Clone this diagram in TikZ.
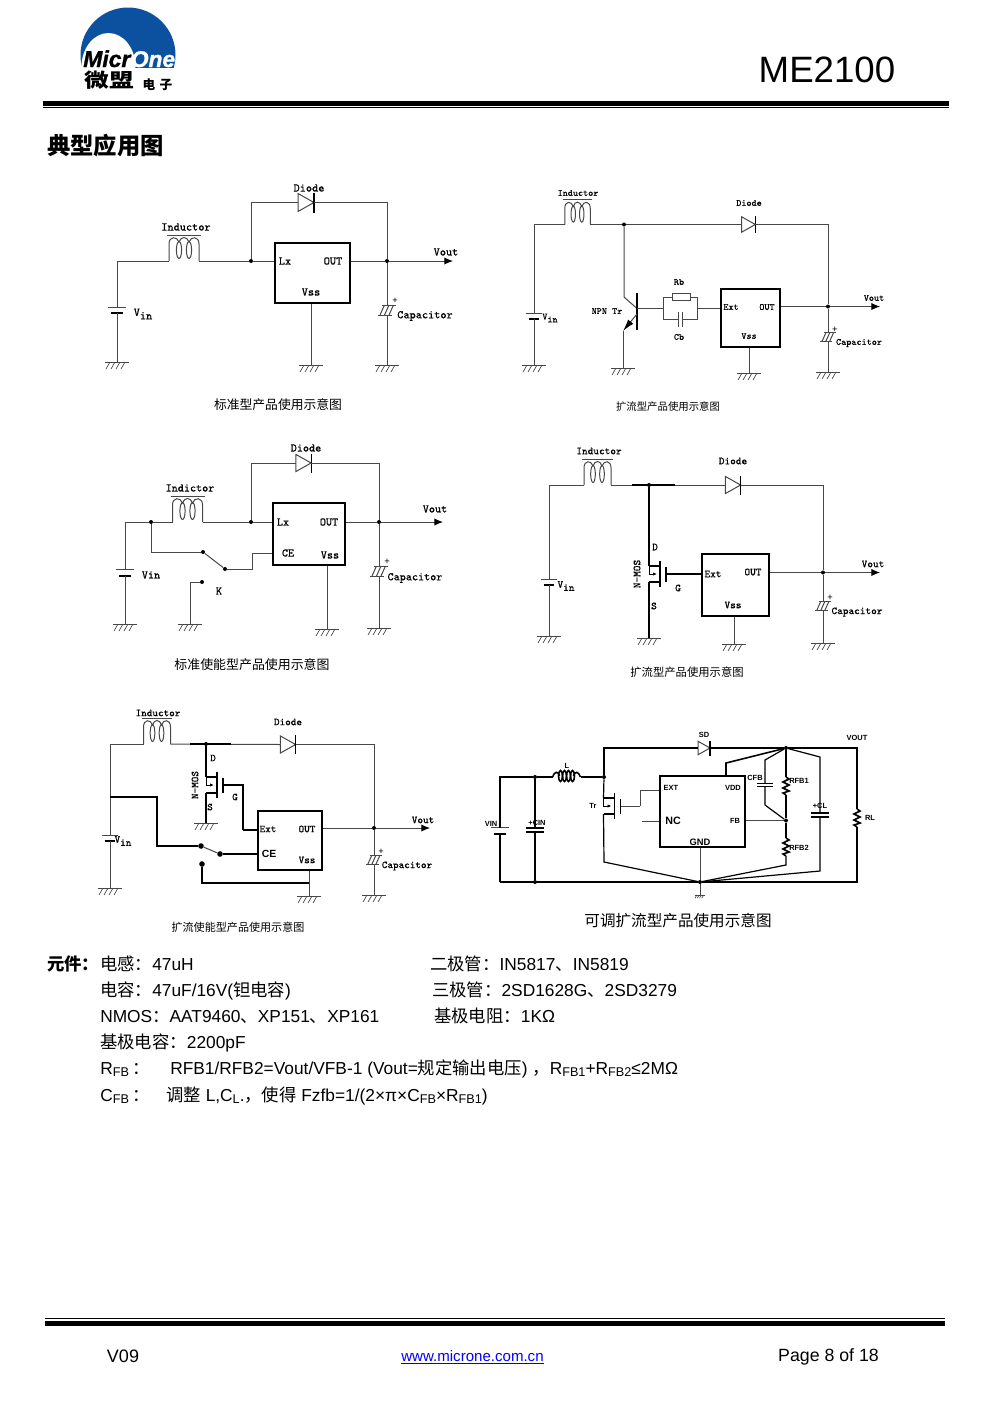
\documentclass[tikz,border=0pt]{standalone}
\usepackage{fontspec}
\setmainfont{Liberation Sans}
\setmonofont[FakeBold=0.35]{Latin Modern Mono}
\newfontfamily\cjk{Noto Sans CJK SC}
\newfontfamily\logofont[UprightFont=* Bold Italic,FakeBold=1.2]{Liberation Sans}
\usetikzlibrary{arrows.meta,positioning}
\definecolor{logoblue}{RGB}{12,80,160}
\definecolor{wiregray}{gray}{0.28}
\newcommand{\zh}[1]{{\cjk #1}}
\newcommand{\sbs}[1]{\raisebox{-1.5pt}{\fontsize{9.5}{9.5}\selectfont #1}}
\newcommand{\fsz}[1]{\fontsize{#1}{#1}\selectfont}
\newcommand{\vin}{V\raisebox{-.3em}{in}}
\tikzset{
  wire/.style={draw=wiregray, line width=0.75pt},
  medium/.style={draw=black, line width=0.9pt},
  heavy/.style={draw=black, line width=1.2pt},
  tip/.style={-{Latex[length=6.5pt,width=5.5pt,color=black]}},
  wedge/.style={-{Latex[length=9pt,width=5pt,color=black]}},
  dot/.style={circle, fill=black, inner sep=0pt, minimum size=3pt},
  bigdot/.style={circle, fill=black, inner sep=0pt, minimum size=4.2pt},
  chip/.style 2 args={draw=black, line width=1.3pt, inner sep=0pt, minimum width=#1*0.75pt, minimum height=#2*0.75pt},
  lbl/.style={inner sep=0pt},
  schem/.style={font=\ttfamily\fsz{#1}},
  capt/.style={inner sep=0pt, font=\cjk\fsz{#1}},
  row/.style={anchor=base west, inner sep=0pt, font=\fsz{13}},
  ground/.pic={
    \coordinate (-c) at (0,0);
    \draw[wire] (-12,0) -- (12,0);
    \foreach \gx in {-7,-2,3,8} \draw[wire,line width=0.5pt] (\gx,0) -- (\gx-4,7);
  },
  inductor/.pic={
    \coordinate (-in) at (-15,0);
    \coordinate (-out) at (15,0);
    \draw[wire] (-17,-26) -- (17,-26);
    \draw[wire] (-15,0) -- (-15,-17) .. controls (-15,-25) and (-7,-25) .. (-5,-19)
      .. controls (-3,-25) and (3,-25) .. (5,-19) .. controls (7,-25) and (15,-25) .. (15,-17) -- (15,0);
    \draw[wire] (-5,-11) ellipse (2.6 and 8.5);
    \draw[wire] (5,-11) ellipse (2.6 and 8.5);
  },
  diode/.pic={
    \coordinate (-in) at (-8,0);
    \coordinate (-out) at (8,0);
    \draw[wire,fill=white] (-8,-9) -- (8,0) -- (-8,9) -- cycle;
    \draw[draw=black,line width=0.8pt] (8,-10) -- (8,10);
  },
  battery/.pic={
    \coordinate (-t) at (0,-3);
    \coordinate (-b) at (0,3);
    \draw[wire] (-9,-3) -- (9,-3);
    \draw[heavy,line width=1.5pt] (-6,3) -- (6,3);
  },
  polcap/.pic={
    \coordinate (-t) at (0,-5);
    \coordinate (-b) at (0,5);
    \draw[wire] (-5,-5) -- (9,-5);
    \draw[wire] (-9,5) -- (5,5);
    \foreach \cx in {-7,-2.5,2} \draw[wire] (\cx,5) -- (\cx+4.5,-5);
    \node[lbl,font=\fsz{7}] (-plus) at (8,-9) {+};
  },
  nmos/.pic={
    \coordinate (-d) at (-11,-8);
    \coordinate (-s) at (-11,8);
    \coordinate (-g) at (6,0);
    \draw[heavy,line width=1pt] (-11,-8) -- (0,-8);
    \draw[heavy,line width=1pt] (-11,8) -- (0,8);
    \draw[heavy,line width=1pt] (0,-13) -- (0,13);
    \draw[heavy,line width=0.8pt] (6,-7) -- (6,8);
    \draw[heavy,line width=0.6pt,-{Latex[length=3pt,width=2.5pt]}] (-11,-8) -- (-11,0) -- (-3,0);
  },
  rzig/.pic={
    \coordinate (-t) at (0,-9);
    \coordinate (-b) at (0,9);
    \draw[heavy] (0,-9) -- (3,-7) -- (-3,-4) -- (3,-1) -- (-3,2) -- (3,5) -- (-3,7) -- (0,9);
  },
  plates/.pic={
    \coordinate (-t) at (0,-2);
    \coordinate (-b) at (0,2);
    \draw[heavy,line width=0.8pt] (-9,-2) -- (9,-2);
    \draw[heavy,line width=0.8pt] (-9,2) -- (9,2);
  },
  coil/.pic={
    \coordinate (-in) at (-14,0);
    \coordinate (-out) at (14,0);
    \draw[heavy] (-14,0) .. controls (-12,-6) and (-8,-6) .. (-7,-1);
    \draw[heavy] (14,0) .. controls (12,-6) and (8,-6) .. (7,-1);
    \foreach \lx in {-6,-2,2,6} \draw[heavy] (\lx,-1) ellipse (2 and 5.5);
  },
}
\begin{document}
\begin{tikzpicture}[x=0.75pt, y=-0.75pt]
%	\draw[help lines, step=100] (0,0) grid (991,1403);
	\useasboundingbox (0,0) rectangle (991,1403);
	% header
	\begin{scope}
		\clip (70,0) rectangle (185,67);
		\fill[logoblue] (128,55) circle (47.5);
		\fill[white] (108.5,67) ellipse (27 and 34);
	\end{scope}
	\node[lbl,anchor=base west,font=\logofont\fsz{17.2}] (micr) at (83,67) {Micr};
	\node[lbl,text=white,font=\logofont\fsz{17},right=0pt of micr.base east,anchor=base west] (one) {One};
	\node[lbl,font=\cjk\bfseries\fsz{14.5}] (logocn) at (109.5,80.5) {\scalebox{1.28}[1]{微盟}};
	\node[lbl,font=\cjk\bfseries\fsz{9.5}] (logosub) at (157.5,85) {电\,\,子};
	\node[lbl,font=\fsz{27.5}] (partno) at (827,70) {ME2100};
	\node[minimum width=906*0.75pt,minimum height=4.5*0.75pt,inner sep=0pt,fill=black] (topbar) at (496,103.5) {};
	\node[minimum width=906*0.75pt,minimum height=1*0.75pt,inner sep=0pt,fill=black,below=0.9pt of topbar] (topline) {};
	\node[lbl,font=\cjk\bfseries\fsz{17.5}] (title) at (105.5,146) {典型应用图};

	% standard
	\begin{scope}[schem=8.8]
		\node[chip={75}{60}] (u1) at (312.5,273) {};
		\node[dot] (j1a) at (251,261) {};
		\node[dot] (j1b) at (387,261) {};
		\coordinate (t1) at (453,261);
		\pic (i1) at (184,261) {inductor};
		\pic (d1) at (306,202.5) {diode};
		\pic (b1) at (117,310) {battery};
		\pic (c1) at (387,310) {polcap};
		\pic (g1a) at (117,362) {ground};
		\pic (g1b) at (311,365) {ground};
		\pic (g1c) at (387,365) {ground};
		\draw[wire] (b1-t) |- (i1-in);
		\draw[wire] (b1-b) -- (g1a-c);
		\draw[wire] (i1-out) -- (j1a);
		\draw[wire] (j1a) -- (j1a -| u1.west);
		\draw[wire] (j1a) |- (d1-in);
		\draw[wire] (d1-out) -| (j1b);
		\draw[wire] (j1b) -- (c1-t);
		\draw[wire] (c1-b) -- (g1c-c);
		\draw[wire] (u1.east |- j1b) -- (j1b);
		\draw[wire,tip] (j1b) -- (t1);
		\draw[wire] (u1.south -| g1b-c) -- (g1b-c);
		\node[lbl] (l1a) at (309,188) {Diode};
		\node[lbl] (l1b) at (186,227) {Inductor};
		\node[lbl] (l1c) at (143,314) {\vin};
		\node[lbl] (l1d) at (285,261) {Lx};
		\node[lbl] (l1e) at (333,261) {OUT};
		\node[lbl] (l1f) at (311,292) {Vss};
		\node[lbl] (l1g) at (446,252) {Vout};
		\node[lbl] (l1h) at (425,316) {Capacitor};
		\node[capt=9.6] (cap1) at (278,405) {标准型产品使用示意图};
	\end{scope}

	% npn
	\begin{scope}[schem=7.2]
		\node[chip={59}{58}] (u2) at (750.5,318) {};
		\node[dot] (j2a) at (624,224.5) {};
		\node[dot] (j2b) at (828,306.5) {};
		\node[draw=wiregray,line width=0.65pt,fill=white,inner sep=0pt,minimum width=13.5pt,minimum height=5pt] (rb) at (681,297) {};
		\coordinate (t2) at (880,306.5);
		\coordinate (q2c) at (624,297);
		\coordinate (q2b) at (637,308.5);
		\coordinate (q2e) at (623,331);
		\coordinate (r2w) at (663,308.5);
		\coordinate (r2e) at (697,308.5);
		\coordinate (c2w) at (678,319);
		\coordinate (c2e) at (682,319);
		\pic[xscale=0.85,yscale=0.95] (i2) at (577.5,224.5) {inductor};
		\pic[scale=0.85] (d2) at (748.5,224.5) {diode};
		\pic[scale=0.9] (b2) at (534,316) {battery};
		\pic[scale=0.85] (c2) at (828,337) {polcap};
		\pic (g2a) at (534,365) {ground};
		\pic (g2b) at (623,368) {ground};
		\pic (g2c) at (749,373) {ground};
		\pic (g2d) at (828,372) {ground};
		\draw[wire] (b2-t) |- (i2-in);
		\draw[wire] (b2-b) -- (g2a-c);
		\draw[wire] (i2-out) -- (j2a);
		\draw[wire] (j2a) -- (d2-in);
		\draw[wire] (d2-out) -| (j2b);
		\draw[wire] (j2b) -- (c2-t);
		\draw[wire] (c2-b) -- (g2d-c);
		\draw[wire] (j2a) -- (q2c) -- (q2b);
		\draw[heavy,line width=0.9pt] (637,293) -- (637,330);
		\draw[wire,wedge] (637,314) -- (q2e);
		\draw[wire] (q2e) -- (g2b-c);
		\draw[wire] (q2b) -- (r2w);
		\draw[wire] (r2w) |- (rb.west);
		\draw[wire] (rb.east) -| (r2e);
		\draw[wire] (r2w) |- (c2w);
		\draw[wire] (r2e) |- (c2e);
		\draw[wire] (678,312) -- (678,327);
		\draw[wire] (682,312) -- (682,327);
		\draw[wire] (r2e) -- (r2e -| u2.west);
		\draw[wire] (u2.east |- j2b) -- (j2b);
		\draw[wire,tip] (j2b) -- (t2);
		\draw[wire] (u2.south -| g2c-c) -- (g2c-c);
		\node[lbl] (l2a) at (578,193) {Inductor};
		\node[lbl] (l2b) at (749,203) {Diode};
		\node[lbl] (l2c) at (679,282) {Rb};
		\node[lbl] (l2d) at (607,311) {NPN Tr};
		\node[lbl] (l2e) at (679,337) {Cb};
		\node[lbl] (l2f) at (731,307) {Ext};
		\node[lbl] (l2g) at (767,307) {OUT};
		\node[lbl] (l2h) at (749,336) {Vss};
		\node[lbl] (l2i) at (874,298) {Vout};
		\node[lbl] (l2j) at (859,343) {Capacitor};
		\node[lbl] (l2k) at (550,318) {\vin};
		\node[capt=7.8] (cap2) at (668,407) {扩流型产品使用示意图};
	\end{scope}

	% standard with enable
	\begin{scope}[schem=8.7]
		\node[chip={72}{62}] (u3) at (309,534) {};
		\node[dot] (j3a) at (151,522) {};
		\node[dot] (j3b) at (251,522) {};
		\node[dot] (j3c) at (379,522) {};
		\node[dot] (k3a) at (203,552) {};
		\node[dot] (k3b) at (225,569) {};
		\node[dot] (k3c) at (202,582) {};
		\coordinate (t3) at (443,522);
		\coordinate (w3) at (252,553);
		\pic (i3) at (187.5,522) {inductor};
		\pic[scale=0.95] (d3) at (303.5,463) {diode};
		\pic (b3) at (125,572.5) {battery};
		\pic (c3) at (379,571) {polcap};
		\pic (g3a) at (125,624) {ground};
		\pic (g3b) at (190,624) {ground};
		\pic (g3c) at (327,629) {ground};
		\pic (g3d) at (379,628) {ground};
		\draw[wire] (b3-t) |- (j3a);
		\draw[wire] (b3-b) -- (g3a-c);
		\draw[wire] (j3a) -- (i3-in);
		\draw[wire] (i3-out) -- (j3b);
		\draw[wire] (j3b) -- (j3b -| u3.west);
		\draw[wire] (j3b) |- (d3-in);
		\draw[wire] (d3-out) -| (j3c);
		\draw[wire] (j3c) -- (c3-t);
		\draw[wire] (c3-b) -- (g3d-c);
		\draw[wire] (u3.east |- j3c) -- (j3c);
		\draw[wire,tip] (j3c) -- (t3);
		\draw[wire] (u3.south -| g3c-c) -- (g3c-c);
		\draw[wire] (j3a) |- (k3a);
		\draw[wire] (k3a) -- (k3b);
		\draw[wire] (k3b) -| (w3);
		\draw[wire] (w3) -- (w3 -| u3.west);
		\draw[wire] (k3c) -| (g3b-c);
		\node[lbl] (l3a) at (306,448) {Diode};
		\node[lbl] (l3b) at (190,488) {Indictor};
		\node[lbl] (l3c) at (151,575) {Vin};
		\node[lbl] (l3d) at (283,522) {Lx};
		\node[lbl] (l3e) at (329,522) {OUT};
		\node[lbl] (l3f) at (288,553) {CE};
		\node[lbl] (l3g) at (330,555) {Vss};
		\node[lbl] (l3h) at (219,591) {K};
		\node[lbl] (l3i) at (435,509) {Vout};
		\node[lbl] (l3j) at (415,578) {Capacitor};
		\node[capt=9.7] (cap3) at (252,665) {标准使能型产品使用示意图};
	\end{scope}

	% n-mos
	\begin{scope}[schem=8]
		\node[chip={67}{62}] (u4) at (735.5,585) {};
		\coordinate (t4) at (880,572.5);
		\pic[xscale=0.9] (i4) at (597.5,485) {inductor};
		\pic[scale=0.95] (d4) at (733,485) {diode};
		\pic (q4) at (660,574) {nmos};
		\pic[scale=0.9] (b4) at (549,582.5) {battery};
		\pic[scale=0.9] (c4) at (823,606) {polcap};
		\pic (g4a) at (549,636) {ground};
		\pic (g4b) at (649,638) {ground};
		\pic (g4c) at (734,644) {ground};
		\pic (g4d) at (823,643) {ground};
		\draw[wire] (b4-t) |- (i4-in);
		\draw[wire] (b4-b) -- (g4a-c);
		\draw[wire] (i4-out) -- (d4-in);
		\draw[heavy] (632,485) -- (675,485);
		\node[dot] (j4a) at (649,485) {};
		\node[dot] (j4b) at (823,572.5) {};
		\draw[wire] (d4-out) -| (j4b);
		\draw[wire] (j4b) -- (c4-t);
		\draw[wire] (c4-b) -- (g4d-c);
		\draw[heavy] (j4a) -- (q4-d);
		\draw[heavy] (q4-s) -- (g4b-c);
		\draw[heavy] (q4-g) -- (q4-g -| u4.west);
		\draw[wire] (u4.east |- j4b) -- (j4b);
		\draw[wire,tip] (j4b) -- (t4);
		\draw[wire] (u4.south -| g4c-c) -- (g4c-c);
		\node[lbl] (l4a) at (599,451) {Inductor};
		\node[lbl] (l4b) at (733,461) {Diode};
		\node[lbl] (l4c) at (655,547) {D};
		\node[lbl] (l4d) at (654,606) {S};
		\node[lbl] (l4e) at (678,588) {G};
		\node[lbl,rotate=90] (l4f) at (637,574) {N-MOS};
		\node[lbl] (l4g) at (713,574) {Ext};
		\node[lbl] (l4h) at (753,572) {OUT};
		\node[lbl] (l4i) at (733,605) {Vss};
		\node[lbl] (l4j) at (873,564) {Vout};
		\node[lbl] (l4k) at (857,612) {Capacitor};
		\node[lbl] (l4l) at (566,586) {\vin};
		\node[capt=8.5] (cap4) at (687,672) {扩流型产品使用示意图};
	\end{scope}

	% n-mos with enable
	\begin{scope}[schem=7.9]
		\node[chip={64}{59}] (u5) at (290,840.5) {};
		\node[dot] (j5b) at (374,828) {};
		\node[bigdot] (k5a) at (201,846) {};
		\node[bigdot] (k5b) at (220,854) {};
		\node[bigdot] (k5c) at (202,864) {};
		\coordinate (t5) at (430,828);
		\coordinate (v5) at (110,797);
		\coordinate (w5) at (309,883);
		\coordinate (ge5) at (243,830);
		\pic[xscale=0.9] (i5) at (157,744) {inductor};
		\pic[scale=0.95] (d5) at (288,744.5) {diode};
		\pic (q5) at (217,785) {nmos};
		\pic[scale=0.9] (b5) at (110,838.5) {battery};
		\pic[scale=0.9] (c5) at (374,860) {polcap};
		\pic (g5a) at (110,888) {ground};
		\pic (g5b) at (206,823) {ground};
		\pic (g5c) at (309,896) {ground};
		\pic (g5d) at (374,895) {ground};
		\draw[wire] (b5-t) |- (i5-in);
		\draw[wire] (b5-b) -- (g5a-c);
		\draw[wire] (i5-out) -- (d5-in);
		\draw[heavy] (190,744) -- (231,744);
		\node[dot] (j5a) at (206,744) {};
		\draw[wire] (d5-out) -| (j5b);
		\draw[wire] (j5b) -- (c5-t);
		\draw[wire] (c5-b) -- (g5d-c);
		\draw[heavy] (j5a) -- (q5-d);
		\draw[heavy] (q5-s) -- (g5b-c);
		\draw[heavy] (q5-g) -| (ge5);
		\draw[heavy] (ge5) -- (ge5 -| u5.west);
		\draw[wire] (u5.east |- j5b) -- (j5b);
		\draw[wire,tip] (j5b) -- (t5);
		\draw[heavy] (v5) -| (157,846) -- (k5a);
		\draw[wire] (k5a) -- (k5b);
		\draw[heavy] (k5b) -- (k5b -| u5.west);
		\draw[heavy] (k5c) |- (w5);
		\draw[wire] (u5.south -| g5c-c) -- (g5c-c);
		\node[lbl] (l5a) at (158,713) {Inductor};
		\node[lbl] (l5b) at (288,722) {Diode};
		\node[lbl] (l5c) at (213,758) {D};
		\node[lbl] (l5d) at (210,807) {S};
		\node[lbl] (l5e) at (235,797) {G};
		\node[lbl,rotate=90] (l5f) at (195,785) {N-MOS};
		\node[lbl] (l5g) at (268,829) {Ext};
		\node[lbl] (l5h) at (307,829) {OUT};
		\node[lbl,font=\bfseries\fsz{7.8}] (l5i) at (269,854) {CE};
		\node[lbl] (l5j) at (307,860) {Vss};
		\node[lbl] (l5k) at (423,820) {Vout};
		\node[lbl] (l5l) at (407,866) {Capacitor};
		\node[lbl] (l5m) at (123,841) {\vin};
		\node[capt=8.3] (cap5) at (238,927) {扩流使能型产品使用示意图};
	\end{scope}

	% adjustable
	\begin{scope}[font=\bfseries\fsz{5.6}]
		\node[chip={85}{71}] (u6) at (702.5,811.5) {};
		\node[dot] (j6a) at (535,777) {};
		\node[dot] (j6b) at (604,777) {};
		\node[dot] (j6c) at (786,748) {};
		\node[dot] (j6d) at (786,820.5) {};
		\node[dot] (j6e) at (700,882) {};
		\node[dot] (j6f) at (535,882) {};
		\coordinate (a6) at (604,748);
		\coordinate (b6) at (857,748);
		\coordinate (f6) at (857,882);
		\coordinate (h6) at (500,882);
		\coordinate (e6) at (640,806);
		\coordinate (n6) at (642,821);
		\pic (l6) at (566.5,777) {coil};
		\pic[scale=0.75] (d6) at (704,748) {diode};
		\pic (q6) at (614.5,806) {nmos};
		\pic (b6p) at (500,830.5) {battery};
		\pic (c6a) at (535,830) {plates};
		\pic[scale=0.9] (c6b) at (765,785) {plates};
		\pic (c6c) at (820,815) {plates};
		\pic (r6a) at (786,786) {rzig};
		\pic (r6b) at (786,847) {rzig};
		\pic (r6c) at (857,818) {rzig};
		\pic[scale=0.45] (g6) at (700,895) {ground};
		\draw[heavy] (h6) -- (b6p-b);
		\draw[heavy] (b6p-t) |- (j6a);
		\draw[heavy] (j6a) -- (l6-in);
		\draw[heavy] (l6-out) -- (j6b);
		\draw[medium] (j6a) -- (c6a-t);
		\draw[medium] (c6a-b) -- (j6f);
		\draw[heavy] (j6b) -- (a6) -- (d6-in);
		\draw[heavy] (d6-out) -- (j6c);
		\draw[heavy] (j6c) -- (b6) -- (r6c-t);
		\draw[heavy] (r6c-b) -- (f6) -- (j6e);
		\draw[heavy] (j6e) -- (h6);
		\draw[medium] (j6b) -- (q6-d);
		\draw[medium] (q6-s) -- (604,862) -- (j6e);
		\draw[wire] (q6-g) -| (e6);
		\draw[wire] (e6) |- (u6.west |- 640,790);
		\draw[wire] (n6) -- (n6 -| u6.west);
		\draw[wire] (u6.east |- j6d) -- (j6d);
		\draw[heavy] (726,776) -- (726,763) -- (j6c);
		\draw[wire] (u6.south -| j6e) -- (j6e);
		\draw[wire] (j6e) -- (g6-c);
		\draw[medium] (j6c) -- (r6a-t);
		\draw[medium] (r6a-b) -- (j6d);
		\draw[medium] (j6d) -- (r6b-t);
		\draw[medium] (r6b-b) -- (786,865) -- (j6e);
		\draw[medium] (j6c) -- (765,760) -- (c6b-t);
		\draw[medium] (c6b-b) -- (765,805) -- (j6d);
		\draw[medium] (j6c) -- (820,757) -- (c6c-t);
		\draw[medium] (c6c-b) -- (820,871) -- (j6e);
		\node[lbl] (l6a) at (704,735) {SD};
		\node[lbl] (l6b) at (857,738) {VOUT};
		\node[lbl] (l6c) at (567,766) {L};
		\node[lbl] (l6d) at (593,806) {Tr};
		\node[lbl] (l6e) at (491,824) {VIN};
		\node[lbl] (l6f) at (537,823) {+CIN};
		\node[lbl] (l6g) at (671,788) {EXT};
		\node[lbl] (l6h) at (733,788) {VDD};
		\node[lbl,font=\bfseries\fsz{8}] (l6i) at (673,821) {NC};
		\node[lbl] (l6j) at (735,821) {FB};
		\node[lbl,font=\bfseries\fsz{7}] (l6k) at (700,842) {GND};
		\node[lbl] (l6l) at (755,778) {CFB};
		\node[lbl] (l6m) at (799,781) {RFB1};
		\node[lbl] (l6n) at (820,806) {+CL};
		\node[lbl] (l6o) at (799,848) {RFB2};
		\node[lbl] (l6p) at (870,818) {RL};
		\node[capt=11.7] (cap6) at (678,921) {可调扩流型产品使用示意图};
	\end{scope}

	% parts
	\node[row,font=\cjk\bfseries\fsz{13}] (parts) at (47,970) {元件：};
	\node[row] (p1) at (100,970) {\zh{电感：}47uH};
	\node[row] (p2) at (430,970) {\zh{二极管：}IN5817\zh{、}IN5819};
	\node[row] (p3) at (100,996) {\zh{电容：}47uF/16V(\zh{钽电容})};
	\node[row] (p4) at (432,996) {\zh{三极管：}2SD1628G\zh{、}2SD3279};
	\node[row] (p5) at (100,1022) {NMOS\zh{：}AAT9460\zh{、}XP151\zh{、}XP161};
	\node[row] (p6) at (434,1022) {\zh{基极电阻：}1KΩ};
	\node[row] (p7) at (100,1048) {\zh{基极电容：}2200pF};
	\node[row] (p8) at (100,1074) {R\sbs{FB}\hspace{3pt}\zh{：}};
	\node[row] (p9) at (170,1074) {RFB1/RFB2=Vout/VFB-1 (Vout=\zh{规定输出电压}) \zh{，}R\sbs{FB1}+R\sbs{FB2}≤2MΩ};
	\node[row] (p10) at (100,1101) {C\sbs{FB}\hspace{3pt}\zh{：}};
	\node[row] (p11) at (166,1101) {\zh{调整} L,C\sbs{L}.\zh{，使得} Fzfb=1/(2×π×C\sbs{FB}×R\sbs{FB1})};

	% footer
	\node[minimum width=900*0.75pt,minimum height=1*0.75pt,inner sep=0pt,fill=black] (botline) at (494.5,1318.5) {};
	\node[minimum width=900*0.75pt,minimum height=4.5*0.75pt,inner sep=0pt,fill=black] (botbar) at (494.5,1323.3) {};
	\node[lbl,font=\fsz{13.5}] (ver) at (123,1356) {V09};
	\node[lbl,font=\fsz{11.3},text=blue] (url) at (472.5,1357) {\underline{www.microne.com.cn}};
	\node[lbl,font=\fsz{13.3}] (page) at (828.5,1357) {Page 8 of 18};
\end{tikzpicture}
\end{document}
